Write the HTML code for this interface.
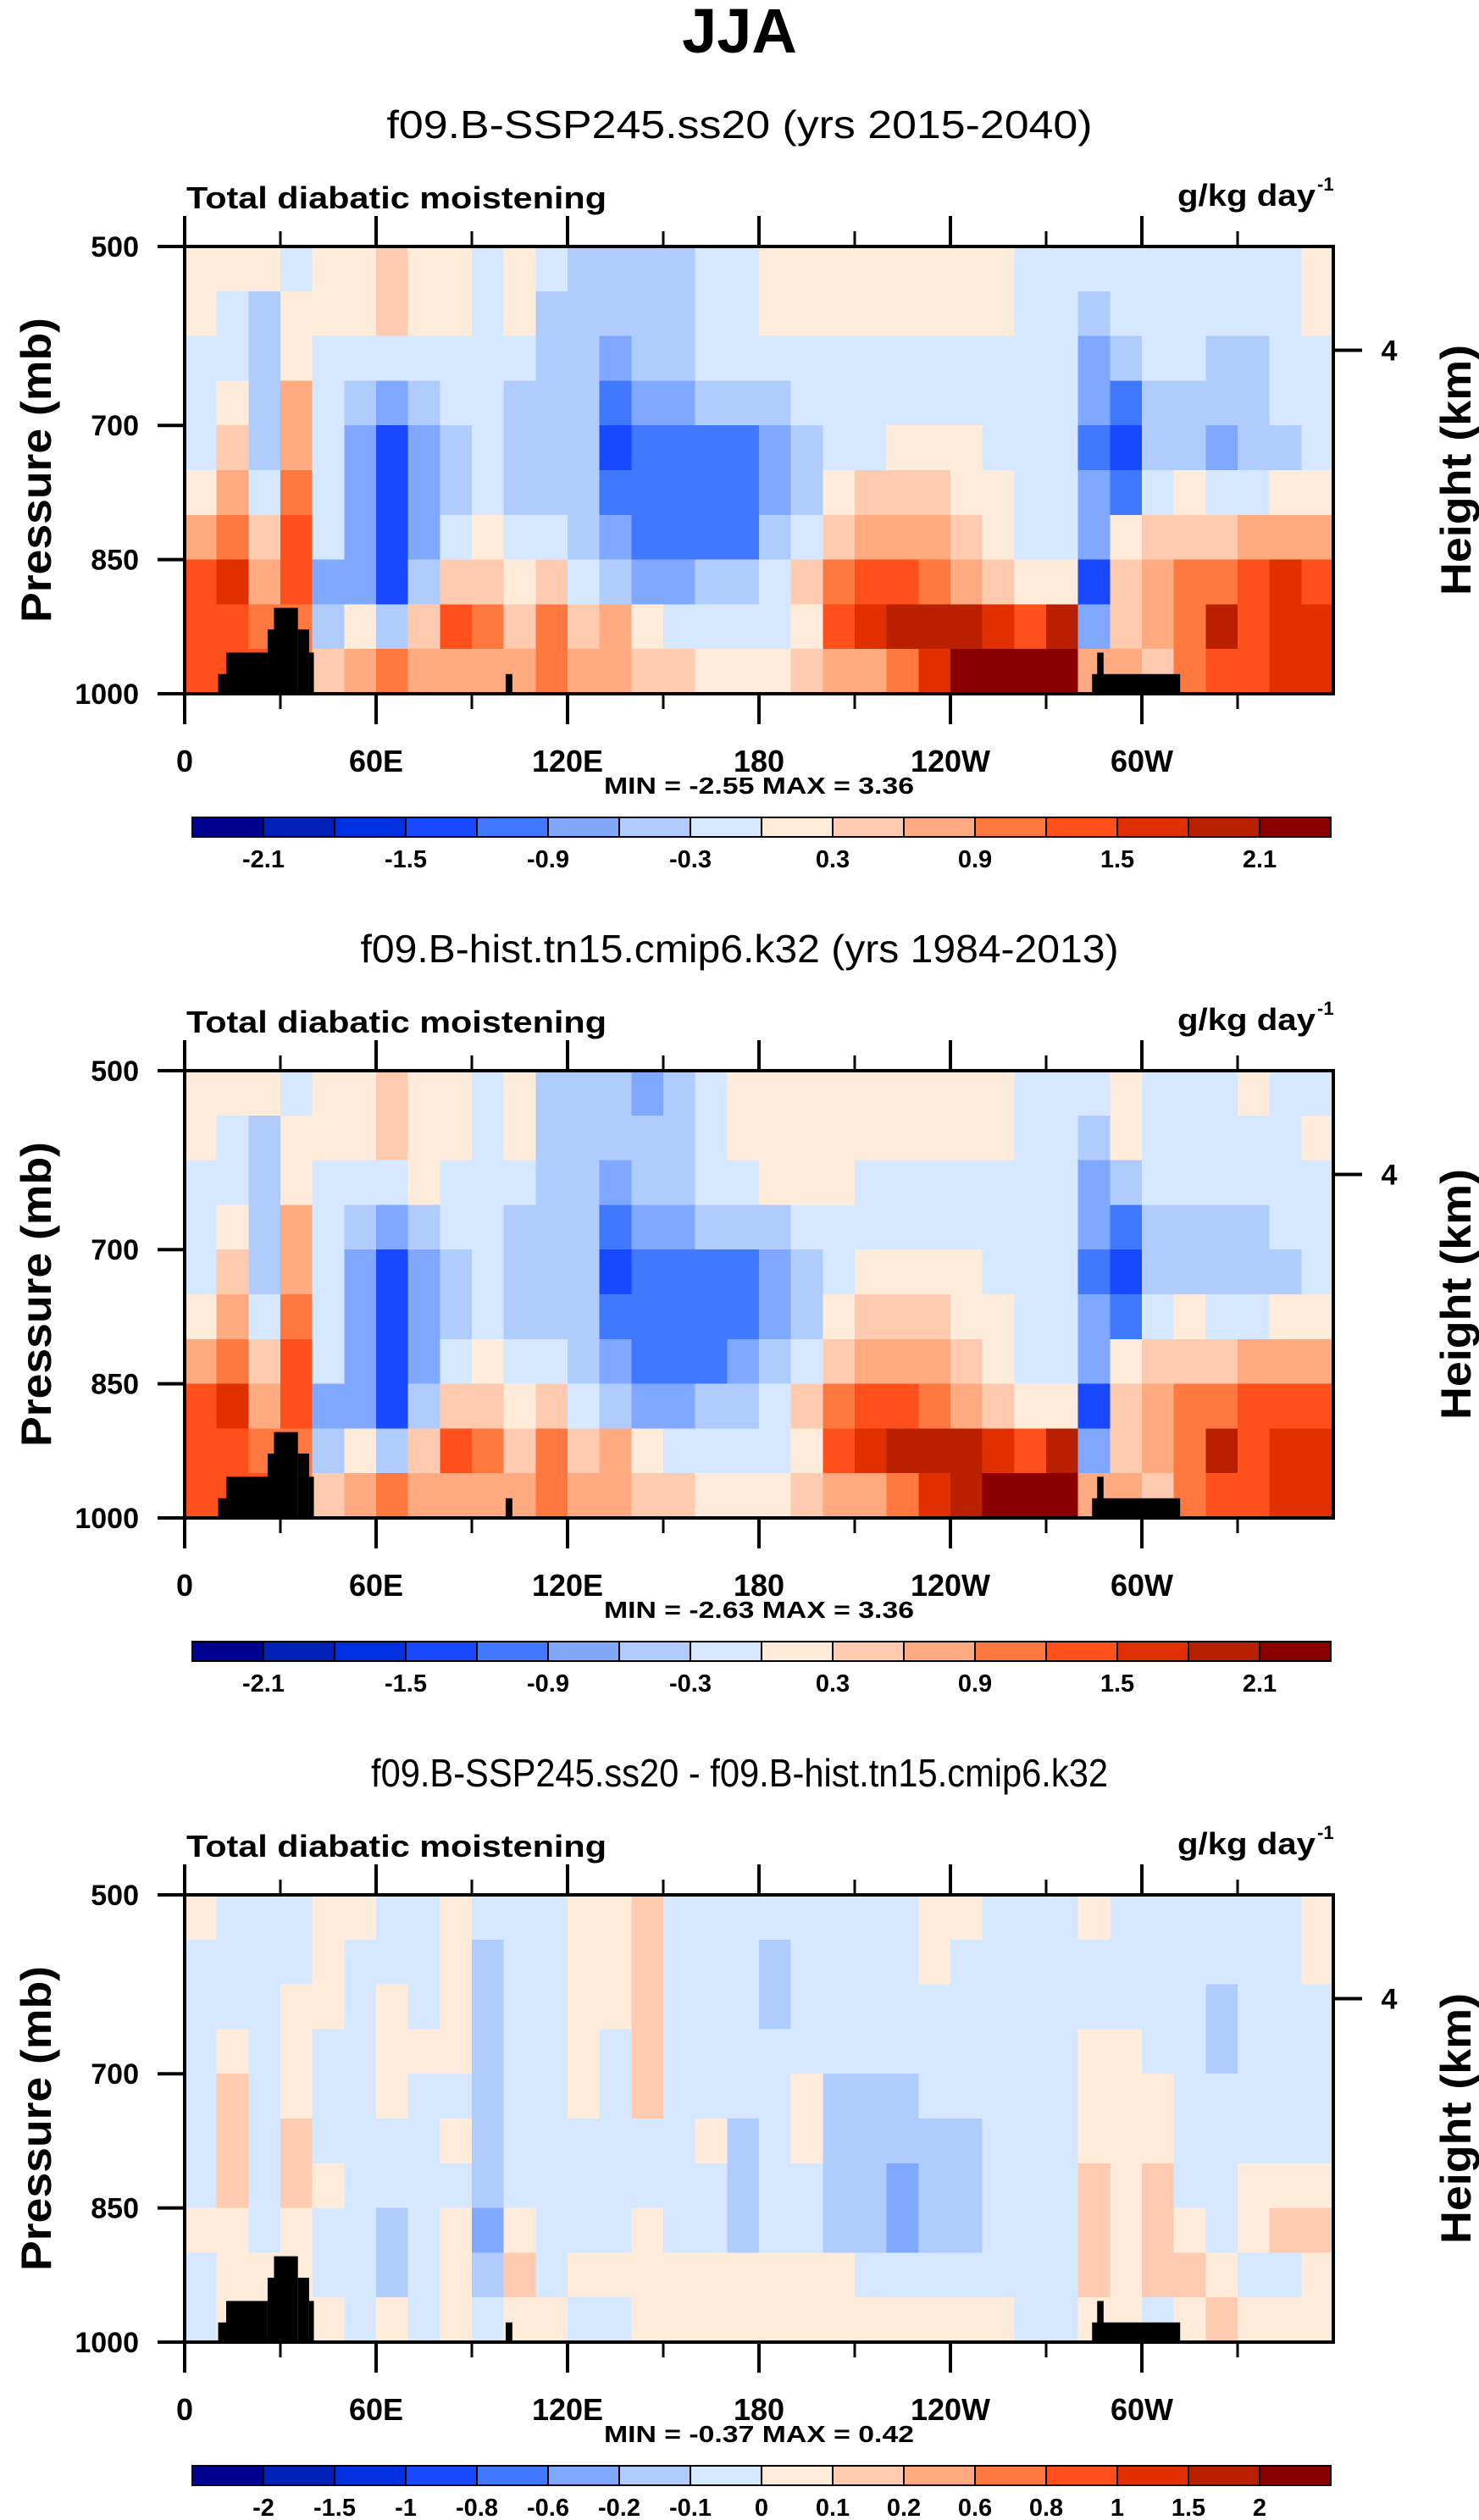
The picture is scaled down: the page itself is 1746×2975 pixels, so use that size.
<!DOCTYPE html>
<html><head><meta charset="utf-8"><title>JJA</title>
<style>html,body{margin:0;padding:0;background:#fff}svg{display:block}text{font-family:"Liberation Sans",Arial,sans-serif}</style>
</head><body>
<svg id="fig" xmlns="http://www.w3.org/2000/svg" width="1746" height="2975" viewBox="0 0 1746 2975">
<rect width="1746" height="2975" fill="#fff"/>
<text x="873" y="62" font-size="74" font-weight="bold" text-anchor="middle">JJA</text>
</svg>
<script>
// ---------- data ----------
const lons = [5,15,25,35,45,55,65,75,85,95,105,115,125,135,145,155,165,175,185,195,205,215,225,235,245,255,265,275,285,295,305,315,325,335,345,355];
const levels = [525,575,625,675,725,775,825,875,925,975];
const xTickLabels = ["0","60E","120E","180","120W","60W"];
const xTickLons = [0,60,120,180,240,300];
const yTickLabels = ["500","700","850","1000"];
const yTickPres = [500,700,850,1000];
const contourLevelsAbs = [-2.1,-1.8,-1.5,-1.2,-0.9,-0.6,-0.3,0,0.3,0.6,0.9,1.2,1.5,1.8,2.1];
const contourLevelsDiff = [-2,-1.5,-1,-0.8,-0.6,-0.2,-0.1,0,0.1,0.2,0.6,0.8,1,1.5,2];
const barLabelsAbs = ["-2.1","","-1.5","","-0.9","","-0.3","","0.3","","0.9","","1.5","","2.1"];
const barLabelsDiff = ["-2","-1.5","-1","-0.8","-0.6","-0.2","-0.1","0","0.1","0.2","0.6","0.8","1","1.5","2"];
const palette = ["#000090","#0020B8","#0030E0","#1848FF","#4078FF","#80A8FF","#B0CCFF","#D6E8FF","#FFEBDA","#FFCBB0","#FFAA80","#FF7840","#FF4F1A","#E03000","#B82000","#8A0000"];
// topography blocks: [lonStart, lonEnd, topPressure]
const topoLonStart = [10.5,13,26,28,35.5,39,100.6,284.4,286];
const topoLonEnd   = [13,26,28,35.5,39,40.5,102.7,312,288];
const topoTop      = [978,954,928,904,928,954,978,978,954];

const field1 = [
[0.15,0.15,0.15,-0.15,0.15,0.15,0.45,0.15,0.15,-0.15,0.15,-0.15,-0.45,-0.45,-0.45,-0.45,-0.15,-0.15,0.15,0.15,0.15,0.15,0.15,0.15,0.15,0.15,-0.15,-0.15,-0.15,-0.15,-0.15,-0.15,-0.15,-0.15,-0.15,0.15],
[0.15,-0.15,-0.45,0.15,0.15,0.15,0.45,0.15,0.15,-0.15,0.15,-0.45,-0.45,-0.45,-0.45,-0.45,-0.15,-0.15,0.15,0.15,0.15,0.15,0.15,0.15,0.15,0.15,-0.15,-0.15,-0.45,-0.15,-0.15,-0.15,-0.15,-0.15,-0.15,0.15],
[-0.15,-0.15,-0.45,0.15,-0.15,-0.15,-0.15,-0.15,-0.15,-0.15,-0.15,-0.45,-0.45,-0.75,-0.45,-0.45,-0.15,-0.15,-0.15,-0.15,-0.15,-0.15,-0.15,-0.15,-0.15,-0.15,-0.15,-0.15,-0.75,-0.45,-0.15,-0.15,-0.45,-0.45,-0.15,-0.15],
[-0.15,0.15,-0.45,0.75,-0.15,-0.45,-0.75,-0.45,-0.15,-0.15,-0.45,-0.45,-0.45,-1.05,-0.75,-0.75,-0.45,-0.45,-0.45,-0.15,-0.15,-0.15,-0.15,-0.15,-0.15,-0.15,-0.15,-0.15,-0.75,-1.05,-0.45,-0.45,-0.45,-0.45,-0.15,-0.15],
[-0.15,0.45,-0.45,0.75,-0.15,-0.75,-1.35,-0.75,-0.45,-0.15,-0.45,-0.45,-0.45,-1.35,-1.05,-1.05,-1.05,-1.05,-0.75,-0.45,-0.15,-0.15,0.15,0.15,0.15,-0.15,-0.15,-0.15,-1.05,-1.35,-0.45,-0.45,-0.75,-0.45,-0.45,-0.15],
[0.15,0.75,-0.15,1.05,-0.15,-0.75,-1.35,-0.75,-0.45,-0.15,-0.45,-0.45,-0.45,-1.05,-1.05,-1.05,-1.05,-1.05,-0.75,-0.45,0.15,0.45,0.45,0.45,0.15,0.15,-0.15,-0.15,-0.75,-1.05,-0.15,0.15,-0.15,-0.15,0.15,0.15],
[0.75,1.05,0.45,1.35,-0.15,-0.75,-1.35,-0.75,-0.15,0.15,-0.15,-0.15,-0.45,-0.75,-1.05,-1.05,-1.05,-1.05,-0.45,-0.15,0.45,0.75,0.75,0.75,0.45,0.15,-0.15,-0.15,-0.75,0.15,0.45,0.45,0.45,0.75,0.75,0.75],
[1.35,1.65,0.75,1.35,-0.75,-0.75,-1.35,-0.45,0.45,0.45,0.15,0.45,-0.15,-0.45,-0.75,-0.75,-0.45,-0.45,-0.15,0.45,1.05,1.35,1.35,1.05,0.75,0.45,0.15,0.15,-1.35,0.45,0.75,1.05,1.05,1.35,1.65,1.35],
[1.35,1.35,1.05,1.05,-0.45,0.15,-0.45,0.45,1.35,1.05,0.45,1.05,0.45,0.75,0.15,-0.15,-0.15,-0.15,-0.15,0.15,1.35,1.65,1.95,1.95,1.95,1.65,1.35,1.95,-0.75,0.45,0.75,1.05,1.95,1.35,1.65,1.65],
[1.35,1.35,1.35,1.05,0.45,0.75,1.05,0.75,0.75,0.75,0.75,1.05,0.75,0.75,0.45,0.45,0.15,0.15,0.15,0.45,0.75,0.75,1.05,1.65,2.25,2.25,2.55,2.55,0.75,0.75,0.45,1.05,1.35,1.35,1.65,1.65]];
const field2 = [
[0.15,0.15,0.15,-0.15,0.15,0.15,0.45,0.15,0.15,-0.15,0.15,-0.45,-0.45,-0.45,-0.75,-0.45,-0.15,0.15,0.15,0.15,0.15,0.15,0.15,0.15,0.15,0.15,-0.15,-0.15,-0.15,0.15,-0.15,-0.15,-0.15,0.15,-0.15,-0.15],
[0.15,-0.15,-0.45,0.15,0.15,0.15,0.45,0.15,0.15,-0.15,0.15,-0.45,-0.45,-0.45,-0.45,-0.45,-0.15,0.15,0.15,0.15,0.15,0.15,0.15,0.15,0.15,0.15,-0.15,-0.15,-0.45,0.15,-0.15,-0.15,-0.15,-0.15,-0.15,0.15],
[-0.15,-0.15,-0.45,0.15,-0.15,-0.15,-0.15,0.15,-0.15,-0.15,-0.15,-0.45,-0.45,-0.75,-0.45,-0.45,-0.15,-0.15,0.15,0.15,0.15,-0.15,-0.15,-0.15,-0.15,-0.15,-0.15,-0.15,-0.75,-0.45,-0.15,-0.15,-0.15,-0.15,-0.15,-0.15],
[-0.15,0.15,-0.45,0.75,-0.15,-0.45,-0.75,-0.45,-0.15,-0.15,-0.45,-0.45,-0.45,-1.05,-0.75,-0.75,-0.45,-0.45,-0.45,-0.15,-0.15,-0.15,-0.15,-0.15,-0.15,-0.15,-0.15,-0.15,-0.75,-1.05,-0.45,-0.45,-0.45,-0.45,-0.15,-0.15],
[-0.15,0.45,-0.45,0.75,-0.15,-0.75,-1.35,-0.75,-0.45,-0.15,-0.45,-0.45,-0.45,-1.35,-1.05,-1.05,-1.05,-1.05,-0.75,-0.45,-0.15,0.15,0.15,0.15,0.15,-0.15,-0.15,-0.15,-1.05,-1.35,-0.45,-0.45,-0.45,-0.45,-0.45,-0.15],
[0.15,0.75,-0.15,1.05,-0.15,-0.75,-1.35,-0.75,-0.45,-0.15,-0.45,-0.45,-0.45,-1.05,-1.05,-1.05,-1.05,-1.05,-0.75,-0.45,0.15,0.45,0.45,0.45,0.15,0.15,-0.15,-0.15,-0.75,-1.05,-0.15,0.15,-0.15,-0.15,0.15,0.15],
[0.75,1.05,0.45,1.35,-0.15,-0.75,-1.35,-0.75,-0.15,0.15,-0.15,-0.15,-0.45,-0.75,-1.05,-1.05,-1.05,-0.75,-0.45,-0.15,0.45,0.75,0.75,0.75,0.45,0.15,-0.15,-0.15,-0.75,0.15,0.45,0.45,0.45,0.75,0.75,0.75],
[1.35,1.65,0.75,1.35,-0.75,-0.75,-1.35,-0.45,0.45,0.45,0.15,0.45,-0.15,-0.45,-0.75,-0.75,-0.45,-0.45,-0.15,0.45,1.05,1.35,1.35,1.05,0.75,0.45,0.15,0.15,-1.35,0.45,0.75,1.05,1.05,1.35,1.35,1.35],
[1.35,1.35,1.05,1.05,-0.45,0.15,-0.45,0.45,1.35,1.05,0.45,1.05,0.45,0.75,0.15,-0.15,-0.15,-0.15,-0.15,0.15,1.35,1.65,1.95,1.95,1.95,1.65,1.35,1.95,-0.75,0.45,0.75,1.05,1.95,1.35,1.65,1.65],
[1.35,1.35,1.35,1.05,0.45,0.75,1.05,0.75,0.75,0.75,0.75,1.05,0.75,0.75,0.45,0.45,0.15,0.15,0.15,0.45,0.75,0.75,1.05,1.65,1.95,2.25,2.55,2.55,0.75,0.75,0.45,1.05,1.35,1.35,1.65,1.65]];
const field3 = [
[0.05,-0.05,-0.05,-0.05,0.05,0.05,-0.05,-0.05,0.05,-0.05,-0.05,-0.05,0.05,0.05,0.15,-0.05,-0.05,-0.05,-0.05,-0.05,-0.05,-0.05,-0.05,0.05,0.05,-0.05,-0.05,-0.05,0.05,-0.05,-0.05,-0.05,-0.05,-0.05,-0.05,0.05],
[-0.05,-0.05,-0.05,-0.05,0.05,-0.05,-0.05,-0.05,0.05,-0.15,-0.05,-0.05,0.05,0.05,0.15,-0.05,-0.05,-0.05,-0.15,-0.05,-0.05,-0.05,-0.05,0.05,-0.05,-0.05,-0.05,-0.05,-0.05,-0.05,-0.05,-0.05,-0.05,-0.05,-0.05,0.05],
[-0.05,-0.05,-0.05,0.05,0.05,-0.05,0.05,-0.05,0.05,-0.15,-0.05,-0.05,0.05,0.05,0.15,-0.05,-0.05,-0.05,-0.15,-0.05,-0.05,-0.05,-0.05,-0.05,-0.05,-0.05,-0.05,-0.05,-0.05,-0.05,-0.05,-0.05,-0.15,-0.05,-0.05,-0.05],
[-0.05,0.05,-0.05,0.05,-0.05,-0.05,0.05,0.05,0.05,-0.15,-0.05,-0.05,0.05,-0.05,0.15,-0.05,-0.05,-0.05,-0.05,-0.05,-0.05,-0.05,-0.05,-0.05,-0.05,-0.05,-0.05,-0.05,0.05,0.05,-0.05,-0.05,-0.15,-0.05,-0.05,-0.05],
[-0.05,0.15,-0.05,0.05,-0.05,-0.05,0.05,-0.05,-0.05,-0.15,-0.05,-0.05,0.05,-0.05,0.15,-0.05,-0.05,-0.05,-0.05,0.05,-0.15,-0.15,-0.15,-0.05,-0.05,-0.05,-0.05,-0.05,0.05,0.05,0.05,-0.05,-0.05,-0.05,-0.05,-0.05],
[-0.05,0.15,-0.05,0.15,-0.05,-0.05,-0.05,-0.05,0.05,-0.15,-0.05,-0.05,-0.05,-0.05,-0.05,-0.05,0.05,-0.15,-0.05,0.05,-0.15,-0.15,-0.15,-0.15,-0.15,-0.05,-0.05,-0.05,0.05,0.05,0.05,-0.05,-0.05,-0.05,-0.05,-0.05],
[-0.05,0.15,-0.05,0.15,0.05,-0.05,-0.05,-0.05,-0.05,-0.15,-0.05,-0.05,-0.05,-0.05,-0.05,-0.05,-0.05,-0.15,-0.05,-0.05,-0.15,-0.15,-0.4,-0.15,-0.15,-0.05,-0.05,-0.05,0.15,0.05,0.15,-0.05,-0.05,0.05,0.05,0.05],
[0.05,0.05,-0.05,0.05,-0.05,-0.05,-0.15,-0.05,0.05,-0.4,0.05,-0.05,-0.05,-0.05,0.05,-0.05,-0.05,-0.15,-0.05,-0.05,-0.15,-0.15,-0.4,-0.15,-0.15,-0.05,-0.05,-0.05,0.15,0.05,0.15,0.05,-0.05,0.05,0.15,0.15],
[-0.05,0.05,0.05,0.05,-0.05,-0.05,-0.15,-0.05,0.05,-0.15,0.15,-0.05,0.05,0.05,0.05,0.05,0.05,0.05,0.05,0.05,0.05,-0.05,-0.05,-0.05,-0.05,-0.05,-0.05,-0.05,0.15,0.05,0.15,0.15,0.05,-0.05,-0.05,0.05],
[-0.05,0.05,0.05,0.05,0.05,-0.05,0.05,-0.05,0.05,-0.05,0.05,0.05,-0.05,-0.05,0.05,0.05,0.05,0.05,0.05,0.05,0.05,0.05,0.05,0.05,0.05,0.05,-0.05,-0.05,0.05,0.05,-0.05,0.05,0.15,0.05,0.05,0.05]];

const panelTitles = ["f09.B-SSP245.ss20 (yrs 2015-2040)","f09.B-hist.tn15.cmip6.k32 (yrs 1984-2013)","f09.B-SSP245.ss20 - f09.B-hist.tn15.cmip6.k32"];
const panelMinMax = ["MIN =  -2.55  MAX =   3.36","MIN =  -2.63  MAX =   3.36","MIN =  -0.37  MAX =  0.42"];

// ---------- drawing ----------
const NS = "http://www.w3.org/2000/svg";
const svg = document.getElementById('fig');
const X0 = 218, X1 = 1574, PH = 528;
function xScale(lon){ return X0 + lon/360*(X1-X0); }
function yScale(top,p){ return top + (p-500)/500*PH; }
function mk(tag, attrs, parent){ const e = document.createElementNS(NS, tag); for (const k in attrs) e.setAttribute(k, attrs[k]); (parent||svg).appendChild(e); return e; }
function colorFor(v, lv){ let i=0; while(i<lv.length && v>=lv[i]) i++; return palette[i]; }

function drawPanel(k, top, field, lv, barLabels){
  const g = mk('g', {});
  
  
  const t = mk('text', {x:873, y:top-128, 'font-size':46, 'text-anchor':'middle', textLength: k===0?833:(k===1?895:870), lengthAdjust:'spacingAndGlyphs'}, g);
  t.textContent = panelTitles[k];
  
  
  const lt = mk('text', {x:220, y:top-45, 'font-size':36, 'font-weight':'bold', textLength:496, lengthAdjust:'spacingAndGlyphs'}, g);
  lt.textContent = 'Total diabatic moistening';
  
  
  const ut = mk('text', {x:1390, y:top-48, 'font-size':36, 'font-weight':'bold', textLength:163, lengthAdjust:'spacingAndGlyphs'}, g);
  ut.textContent = 'g/kg day';
  
  
  const us = mk('text', {x:1555, y:top-66, 'font-size':22, 'font-weight':'bold'}, g);
  us.textContent = '-1';
  
  
  const cg = mk('g', {'shape-rendering':'crispEdges'}, g);
  
  
  for (let j=0;j<levels.length;j++){
    for (let i=0;i<lons.length;i++){
      const xa = xScale(lons[i]-5), xb = xScale(lons[i]+5);
      const ya = yScale(top, levels[j]-25), yb = yScale(top, levels[j]+25);
      const r = mk('rect', {x:xa, y:ya, width:xb-xa+0.6, height:yb-ya+0.6, fill:colorFor(field[j][i], lv)}, cg);
      
      
    }
  }
  for (let i=0;i<topoTop.length;i++){
    const r = mk('rect', {x:xScale(topoLonStart[i]), y:yScale(top, topoTop[i]), width:xScale(topoLonEnd[i])-xScale(topoLonStart[i]), height:yScale(top,1000)-yScale(top,topoTop[i]), fill:'#000'}, g);
    
    
  }
  const bottom = yScale(top,1000);
  const fr = mk('rect', {x:X0, y:top, width:X1-X0, height:PH, fill:'none', stroke:'#000', 'stroke-width':4}, g);
  
  
  for (let lon=0; lon<=330; lon+=30){
    const major = lon%60===0, x = xScale(lon), L = major?36:18;
    mk('line', {x1:x, y1:bottom, x2:x, y2:bottom+L, stroke:'#000', 'stroke-width':major?4:3}, g);
    mk('line', {x1:x, y1:top, x2:x, y2:top-L, stroke:'#000', 'stroke-width':major?4:3}, g);
  }
  for (let i=0;i<xTickLabels.length;i++){
    const tl = mk('text', {x:xScale(xTickLons[i]), y:bottom+92, 'font-size':36, 'font-weight':'bold', 'text-anchor':'middle'}, g);
    tl.textContent = xTickLabels[i];
    
    
  }
  for (let i=0;i<yTickLabels.length;i++){
    const y = yScale(top, yTickPres[i]);
    mk('line', {x1:X0-32, y1:y, x2:X0, y2:y, stroke:'#000', 'stroke-width':4}, g);
    const yl = mk('text', {x:164, y:y+12, 'font-size':34, 'font-weight':'bold', 'text-anchor':'end'}, g);
    yl.textContent = yTickLabels[i];
    
    
  }
  const hy = yScale(top, 616);
  mk('line', {x1:X1, y1:hy, x2:X1+34, y2:hy, stroke:'#000', 'stroke-width':4}, g);
  const h4 = mk('text', {x:1640, y:hy+12, 'font-size':34, 'font-weight':'bold', 'text-anchor':'middle'}, g);
  h4.textContent = '4';
  
  
  const cy = top + PH/2;
  const pl = mk('text', {x:0, y:0, 'font-size':50, 'font-weight':'bold', 'text-anchor':'middle', transform:`translate(60 ${cy}) rotate(-90)`, textLength:360, lengthAdjust:'spacingAndGlyphs'}, g);
  pl.textContent = 'Pressure (mb)';
  
  
  const hl = mk('text', {x:0, y:0, 'font-size':50, 'font-weight':'bold', 'text-anchor':'middle', transform:`translate(1736 ${cy}) rotate(-90)`, textLength:296, lengthAdjust:'spacingAndGlyphs'}, g);
  hl.textContent = 'Height (km)';
  
  
  const mm = mk('text', {x:896, y:bottom+118, 'font-size':28, 'font-weight':'bold', 'text-anchor':'middle', textLength:366, lengthAdjust:'spacingAndGlyphs'}, g);
  mm.textContent = panelMinMax[k];
  
  
  const by = bottom+146, bx0 = 227, bx1 = 1571, bw = (bx1-bx0)/16;
  for (let i=0;i<16;i++){
    const r = mk('rect', {x:bx0+i*bw, y:by, width:bw, height:23, fill:palette[i], stroke:'#000', 'stroke-width':2}, g);
    
    
  }
  for (let i=0;i<barLabels.length;i++){
    if (!barLabels[i]) continue;
    const bl = mk('text', {x:bx0+(i+1)*bw, y:by+59, 'font-size':29, 'font-weight':'bold', 'text-anchor':'middle'}, g);
    bl.textContent = barLabels[i];
    
    
  }
}
drawPanel(0, 291, field1, contourLevelsAbs, barLabelsAbs);
drawPanel(1, 1264, field2, contourLevelsAbs, barLabelsAbs);
drawPanel(2, 2237, field3, contourLevelsDiff, barLabelsDiff);
</script>
</body></html>
